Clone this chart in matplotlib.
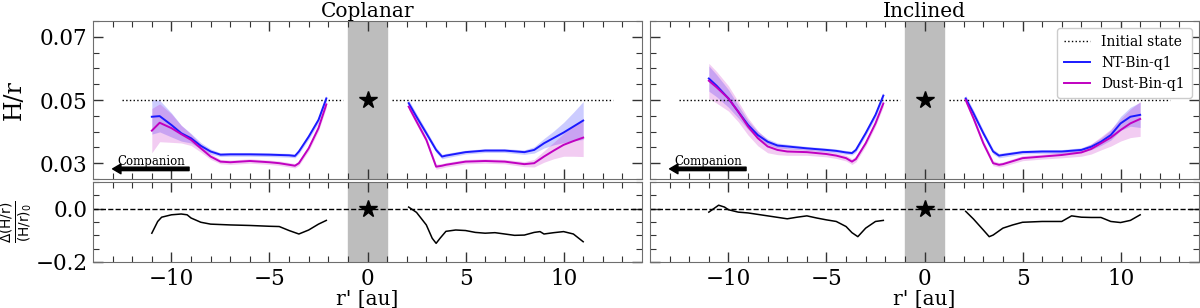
import numpy as np
import matplotlib
matplotlib.use("Agg")
import matplotlib.pyplot as plt

# ---------------- data ----------------
titles = ["Coplanar", "Inclined"]
labels = ["Initial state", "NT-Bin-q1", "Dust-Bin-q1"]
h0 = 0.05
init_segments = [(-12.5, -1.25), (1.25, 12.5)]

# left (inner, companion side) and right halves
xl = [-11, -10.6, -10, -9.5, -9, -8.5, -8, -7.5, -7, -6, -5, -4.5, -4, -3.7, -3.5, -3, -2.5, -2.1]
xr = [2.1, 2.5, 3, 3.5, 3.8, 4, 5, 6, 7, 8, 8.5, 9, 9.5, 10, 10.5, 11]

# Coplanar
cop_nt_l = [0.0447, 0.0449, 0.0421, 0.0395, 0.0379, 0.0355, 0.0337, 0.0327, 0.0328, 0.0328, 0.0327, 0.0326, 0.0325, 0.0323, 0.0337, 0.0384, 0.0437, 0.0505]
cop_du_l = [0.0403, 0.0428, 0.0411, 0.0392, 0.0374, 0.0347, 0.0321, 0.0305, 0.0303, 0.0307, 0.0303, 0.0300, 0.0295, 0.0292, 0.0300, 0.0347, 0.0411, 0.0486]
cop_nt_r = [0.0490, 0.0447, 0.0395, 0.0342, 0.0321, 0.0324, 0.0335, 0.0340, 0.0340, 0.0335, 0.0342, 0.0363, 0.0380, 0.0397, 0.0416, 0.0435]
cop_du_r = [0.0479, 0.0432, 0.0374, 0.0289, 0.0292, 0.0295, 0.0305, 0.0307, 0.0305, 0.0297, 0.0300, 0.0321, 0.0340, 0.0358, 0.0370, 0.0381]
cop_nt_sl = [0.0055, 0.0050, 0.0038, 0.0025, 0.0015, 0.0010, 0.0008, 0.0006, 0.0006, 0.0006, 0.0006, 0.0006, 0.0006, 0.0006, 0.0007, 0.0008, 0.0009, 0.0010]
cop_du_sl = [0.0070, 0.0060, 0.0045, 0.0028, 0.0018, 0.0012, 0.0009, 0.0007, 0.0007, 0.0007, 0.0007, 0.0007, 0.0007, 0.0007, 0.0007, 0.0008, 0.0009, 0.0010]
cop_nt_sr = [0.0010, 0.0010, 0.0009, 0.0008, 0.0007, 0.0007, 0.0006, 0.0006, 0.0006, 0.0007, 0.0010, 0.0015, 0.0022, 0.0032, 0.0045, 0.0060]
cop_du_sr = [0.0010, 0.0010, 0.0009, 0.0008, 0.0007, 0.0007, 0.0007, 0.0007, 0.0007, 0.0008, 0.0012, 0.0018, 0.0026, 0.0036, 0.0048, 0.0060]

# Inclined
inc_nt_l = [0.0568, 0.0545, 0.0505, 0.0463, 0.0421, 0.0389, 0.0368, 0.0356, 0.0353, 0.0347, 0.0342, 0.0339, 0.0334, 0.0332, 0.0342, 0.0395, 0.0453, 0.0514]
inc_du_l = [0.0561, 0.0540, 0.0505, 0.0463, 0.0416, 0.0379, 0.0353, 0.0342, 0.0337, 0.0335, 0.0329, 0.0324, 0.0316, 0.0305, 0.0313, 0.0363, 0.0426, 0.0489]
inc_nt_r = [0.0505, 0.0458, 0.0395, 0.0337, 0.0324, 0.0326, 0.0335, 0.0337, 0.0337, 0.0342, 0.0352, 0.0368, 0.0389, 0.0426, 0.0447, 0.0453]
inc_du_r = [0.0500, 0.0442, 0.0363, 0.0300, 0.0295, 0.0297, 0.0316, 0.0321, 0.0326, 0.0334, 0.0345, 0.0363, 0.0381, 0.0405, 0.0426, 0.0440]
inc_nt_sl = [0.0040, 0.0035, 0.0028, 0.0020, 0.0014, 0.0011, 0.0009, 0.0008, 0.0007, 0.0006, 0.0006, 0.0006, 0.0006, 0.0006, 0.0007, 0.0008, 0.0009, 0.0010]
inc_du_sl = [0.0055, 0.0050, 0.0040, 0.0032, 0.0027, 0.0024, 0.0020, 0.0015, 0.0012, 0.0010, 0.0009, 0.0009, 0.0009, 0.0009, 0.0009, 0.0009, 0.0009, 0.0010]
inc_nt_sr = [0.0010, 0.0010, 0.0009, 0.0008, 0.0007, 0.0007, 0.0006, 0.0006, 0.0006, 0.0007, 0.0009, 0.0012, 0.0016, 0.0022, 0.0030, 0.0040]
inc_du_sr = [0.0010, 0.0010, 0.0009, 0.0008, 0.0007, 0.0007, 0.0008, 0.0008, 0.0009, 0.0012, 0.0016, 0.0021, 0.0027, 0.0035, 0.0045, 0.0055]

# relative difference panels
dxl_cop = [-11, -10.7, -10.5, -10, -9.5, -9.2, -9, -8.5, -8, -7, -6, -5, -4.5, -4, -3.5, -3, -2.5, -2.1]
dyl_cop = [-0.092, -0.048, -0.032, -0.023, -0.020, -0.023, -0.035, -0.051, -0.058, -0.061, -0.063, -0.066, -0.067, -0.082, -0.095, -0.080, -0.058, -0.044]
dxr_cop = [2.1, 2.5, 3, 3.3, 3.5, 3.7, 4, 4.5, 5, 5.5, 6, 6.5, 7, 7.5, 8, 8.5, 8.8, 9, 9.5, 10, 10.5, 11]
dyr_cop = [0.006, -0.014, -0.061, -0.111, -0.130, -0.111, -0.085, -0.080, -0.082, -0.089, -0.092, -0.090, -0.095, -0.100, -0.099, -0.089, -0.086, -0.095, -0.090, -0.086, -0.095, -0.124]
dxl_inc = [-11, -10.5, -10.2, -10, -9.5, -9, -8, -7, -6.5, -6, -5.5, -5, -4.5, -4, -3.7, -3.4, -3, -2.5, -2.1]
dyl_inc = [-0.013, 0.013, 0.006, -0.004, -0.013, -0.016, -0.027, -0.038, -0.032, -0.027, -0.035, -0.042, -0.048, -0.067, -0.090, -0.105, -0.073, -0.048, -0.044]
dxr_inc = [2.1, 2.5, 3, 3.3, 3.5, 4, 4.5, 5, 6, 7, 7.5, 8, 8.5, 9, 9.5, 10, 10.5, 11]
dyr_inc = [-0.010, -0.039, -0.080, -0.105, -0.099, -0.073, -0.061, -0.051, -0.048, -0.048, -0.027, -0.032, -0.033, -0.033, -0.048, -0.052, -0.044, -0.023]

panels = [
    dict(nt_l=cop_nt_l, du_l=cop_du_l, nt_r=cop_nt_r, du_r=cop_du_r,
         nt_sl=cop_nt_sl, du_sl=cop_du_sl, nt_sr=cop_nt_sr, du_sr=cop_du_sr,
         dxl=dxl_cop, dyl=dyl_cop, dxr=dxr_cop, dyr=dyr_cop),
    dict(nt_l=inc_nt_l, du_l=inc_du_l, nt_r=inc_nt_r, du_r=inc_du_r,
         nt_sl=inc_nt_sl, du_sl=inc_du_sl, nt_sr=inc_nt_sr, du_sr=inc_du_sr,
         dxl=dxl_inc, dyl=dyl_inc, dxr=dxr_inc, dyr=dyr_inc),
]

# ---------------- style ----------------
plt.rcParams['font.family'] = ['DejaVu Serif']
plt.rcParams['mathtext.fontset'] = 'dejavusans'
C_NT = '#1a1aff'
C_DU = '#c000c0'
FRAME = '#6e6e6e'

fig = plt.figure(figsize=(12, 3.08), dpi=100)
lefts = [93 / 1200, 650 / 1200]
width = 549 / 1200
top_b, top_h = 1 - 179 / 308, (179 - 21) / 308
bot_b, bot_h = 1 - 262 / 308, (262 - 182) / 308


def style(ax):
    for s in ax.spines.values():
        s.set_color(FRAME)
    ax.tick_params(which='both', direction='in', top=True, right=True, color='#333333')
    ax.tick_params(which='major', length=7, width=1, labelsize=15.5, pad=4)
    ax.tick_params(which='minor', length=4, width=0.8)


for i, p in enumerate(panels):
    ax = fig.add_axes([lefts[i], top_b, width, top_h])
    axb = fig.add_axes([lefts[i], bot_b, width, bot_h])

    ax.axvspan(-1, 1, color='#bdbdbd', zorder=0)
    axb.axvspan(-1, 1, color='#bdbdbd', zorder=0)

    for k, (a, b) in enumerate(init_segments):
        ax.plot([a, b], [h0, h0], ls=':', color='k', lw=1,
                label=labels[0] if k == 0 else None)

    for xs, nt, du, snt, sdu, lab in [
        (xl, p['nt_l'], p['du_l'], p['nt_sl'], p['du_sl'], True),
        (xr, p['nt_r'], p['du_r'], p['nt_sr'], p['du_sr'], False),
    ]:
        xs = np.array(xs); nt = np.array(nt); du = np.array(du)
        snt = np.array(snt); sdu = np.array(sdu)
        ax.fill_between(xs, nt - snt, nt + snt, color=C_NT, alpha=0.22, lw=0)
        ax.fill_between(xs, du - sdu, du + sdu, color=C_DU, alpha=0.2, lw=0)
        ax.plot(xs, nt, color=C_NT, lw=1.4, label=labels[1] if lab else None)
        ax.plot(xs, du, color=C_DU, lw=1.4, label=labels[2] if lab else None)

    ax.plot([0], [h0], marker='*', color='k', ms=13, ls='none')
    axb.plot([0], [0], marker='*', color='k', ms=13, ls='none', zorder=5)

    ax.annotate('', xy=(-13.0, 0.0282), xytext=(-9.1, 0.0282),
                arrowprops=dict(facecolor='black', edgecolor='black', width=2.5,
                                headwidth=7, headlength=6, shrink=0))
    ax.text(-11.05, 0.0286, 'Companion', ha='center', va='bottom', fontsize=8.5)

    axb.axhline(0, color='k', ls='--', lw=1)
    axb.plot(p['dxl'], p['dyl'], color='k', lw=1.1)
    axb.plot(p['dxr'], p['dyr'], color='k', lw=1.1)

    for a in (ax, axb):
        a.set_xlim(-14, 14)
        a.set_xticks([-10, -5, 0, 5, 10])
        a.set_xticks(np.arange(-13, 14, 1), minor=True)
        style(a)
    ax.set_ylim(0.025, 0.075)
    ax.set_yticks([0.03, 0.05, 0.07])
    ax.set_yticks(np.arange(0.025, 0.0751, 0.005), minor=True)
    ax.tick_params(labelbottom=False)
    axb.set_ylim(-0.2, 0.1)
    axb.set_yticks([-0.2, 0.0])
    axb.set_yticks(np.arange(-0.2, 0.101, 0.05), minor=True)
    axb.set_xticklabels(['\u221210', '\u22125', '0', '5', '10'])
    axb.set_xlabel("r' [au]", fontsize=14.5)
    axb.xaxis.set_label_coords(0.5, -0.345)
    ax.set_title(titles[i], fontsize=14.5, pad=3)

    if i == 0:
        ax.set_yticklabels(['0.03', '0.05', '0.07'])
        axb.set_yticklabels(['\u22120.2', '0.0'])
        ax.set_ylabel('H/r', fontsize=17)
        ax.yaxis.set_label_coords(-0.122, 0.5)
        axb.set_ylabel(r'$\frac{\Delta(\mathrm{H/r})}{(\mathrm{H/r})_0}$', fontsize=14)
        axb.yaxis.set_label_coords(-0.105, 0.5)
    else:
        ax.tick_params(labelleft=False)
        axb.tick_params(labelleft=False)
        ax.legend(loc='upper right', fontsize=10, framealpha=1, edgecolor='#cccccc',
                  handlelength=1.9, borderpad=0.5, labelspacing=0.5)

fig.savefig('out.png', dpi=100)
